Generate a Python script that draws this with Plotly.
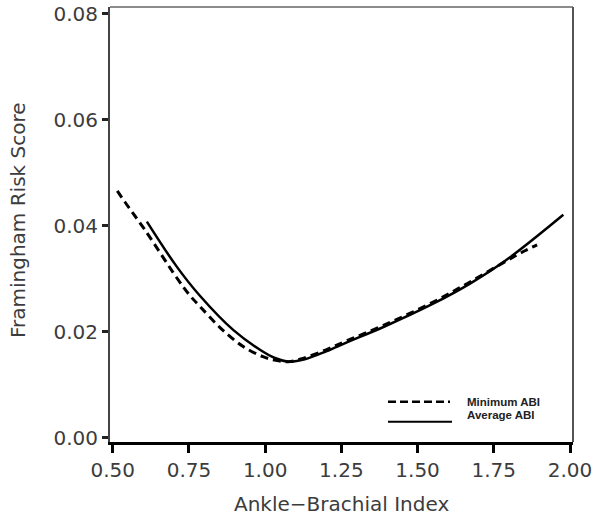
import plotly.graph_objects as go

# Data
min_abi_x = [0.515, 0.54, 0.606, 0.71, 0.754, 0.786, 0.852, 0.928, 0.993, 1.035, 1.075,
             1.12, 1.2, 1.268, 1.388, 1.551, 1.672, 1.792, 1.852, 1.892]
min_abi_y = [0.0466, 0.0445, 0.0392, 0.0302, 0.0268, 0.0248, 0.0208, 0.0172, 0.0153, 0.0146, 0.01435,
             0.0149, 0.0166, 0.0183, 0.0212, 0.0256, 0.0294, 0.0334, 0.0353, 0.0364]

avg_abi_x = [0.612, 0.71, 0.786, 0.896, 0.983, 1.03, 1.08, 1.13, 1.2, 1.268, 1.388, 1.551,
             1.672, 1.792, 1.978]
avg_abi_y = [0.0408, 0.0323, 0.0268, 0.0203, 0.0166, 0.0151, 0.01435, 0.0148, 0.0163, 0.0180,
             0.0209, 0.0253, 0.0291, 0.0336, 0.0421]

x_ticks = [0.50, 0.75, 1.00, 1.25, 1.50, 1.75, 2.00]
x_tick_labels = ["0.50", "0.75", "1.00", "1.25", "1.50", "1.75", "2.00"]
y_ticks = [0.00, 0.02, 0.04, 0.06, 0.08]
y_tick_labels = ["0.00", "0.02", "0.04", "0.06", "0.08"]

series_names = ["Minimum ABI", "Average ABI"]

FONT = "DejaVu Sans"
GREY = "#3c3c3c"

fig = go.Figure()
fig.add_trace(go.Scatter(x=min_abi_x, y=min_abi_y, mode="lines", name=series_names[0],
                         line=dict(color="black", width=3, dash="8px,5px", shape="spline")))
fig.add_trace(go.Scatter(x=avg_abi_x, y=avg_abi_y, mode="lines", name=series_names[1],
                         line=dict(color="black", width=2.5, shape="spline")))

L, R, T, B = 110, 27, 7, 75
W, H = 600, 517
pw, ph = W - L - R, H - T - B

def px_x(p):
    return (p - L) / pw

def px_y(p):
    return (H - B - p) / ph

fig.update_layout(
    template="none",
    width=W, height=H,
    margin=dict(l=L, r=R, t=T, b=B, pad=0, autoexpand=False),
    paper_bgcolor="white", plot_bgcolor="white",
    showlegend=False,
    font=dict(family=FONT, size=20, color=GREY),
)
fig.update_xaxes(
    automargin=False, ticklabeloverflow="allow",
    range=[0.4911, 2.0098], tickvals=x_ticks, ticktext=x_tick_labels,
    showgrid=False, zeroline=False,
    showline=True, linecolor="black", linewidth=3,
    ticks="outside", ticklen=8, tickwidth=3, tickcolor="black",
    tickfont=dict(family=FONT, size=20, color=GREY),
)
fig.update_yaxes(
    automargin=False, ticklabeloverflow="allow",
    range=[-0.000812, 0.08132], tickvals=y_ticks, ticktext=y_tick_labels,
    showgrid=False, zeroline=False,
    showline=True, linecolor="#444", linewidth=2,
    ticks="outside", ticklen=6, tickwidth=3, tickcolor="#222",
    tickfont=dict(family=FONT, size=20, color=GREY),
)

# Frame top/right
fig.add_shape(type="line", xref="paper", yref="paper", x0=0, x1=1, y0=1, y1=1,
              line=dict(color="#666", width=1.5))
fig.add_shape(type="line", xref="paper", yref="paper", x0=1, x1=1, y0=0, y1=1,
              line=dict(color="#555", width=2))

# Legend (manual)
fig.add_shape(type="line", xref="paper", yref="paper",
              x0=px_x(388), x1=px_x(450), y0=px_y(401.7), y1=px_y(401.7),
              line=dict(color="black", width=2.5, dash="8px,4px"))
fig.add_shape(type="line", xref="paper", yref="paper",
              x0=px_x(388), x1=px_x(452), y0=px_y(421.7), y1=px_y(421.7),
              line=dict(color="black", width=2))
fig.add_annotation(text="<b>" + series_names[0] + "</b>", xref="paper", yref="paper",
                   x=px_x(465), y=px_y(402), xanchor="left", yanchor="middle",
                   showarrow=False, font=dict(family="Liberation Sans", size=11.5, color="#222"))
fig.add_annotation(text="<b>" + series_names[1] + "</b>", xref="paper", yref="paper",
                   x=px_x(465), y=px_y(414.5), xanchor="left", yanchor="middle",
                   showarrow=False, font=dict(family="Liberation Sans", size=11.5, color="#222"))

# Axis titles
fig.add_annotation(text="Ankle\u2212Brachial Index", xref="paper", yref="paper",
                   x=px_x(341.7), y=px_y(504), xanchor="center", yanchor="middle",
                   showarrow=False, font=dict(family=FONT, size=20, color=GREY))
fig.add_annotation(text="Framingham Risk Score", xref="paper", yref="paper",
                   x=px_x(18), y=px_y(220), xanchor="center", yanchor="middle", textangle=-90,
                   showarrow=False, font=dict(family=FONT, size=20, color=GREY))

# Remove the default 8px page margin so the figure sits at the window's corner
fig.write_html("out.html", config={"displayModeBar": False},
               post_script="document.body.style.margin='0';")
